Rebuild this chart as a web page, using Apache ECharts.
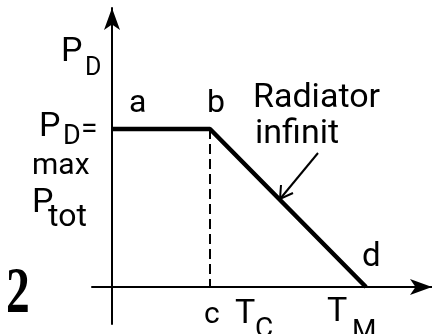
<!DOCTYPE html>
<html>
<head>
<meta charset="utf-8">
<script src="https://cdn.jsdelivr.net/npm/echarts@6/dist/echarts.min.js"></script>
<style>
  html, body { margin: 0; padding: 0; background: #fff; }
  #main { width: 432px; height: 334px; }
</style>
</head>
<body>
<div id="main"></div>
<script>
// curve points a-b-d (temperature, dissipated power), arbitrary units
var curveT = [0, 98, 254];
var curveP = [158, 158, 0];
// dashed drop from b down to c
var cT = 98;
var pMax = 158;

var FONT = 'Roboto, "DejaVu Sans", sans-serif';

// text placed by its baseline
function label(txt, x, base, size, font, weight, sx) {
  return {
    type: 'text',
    x: x, y: base - 0.29 * size,
    scaleX: sx || 1,
    style: {
      x: 0, y: 0,
      text: txt,
      fill: '#000',
      font: (weight || 'normal') + ' ' + size + 'px ' + (font || FONT),
      verticalAlign: 'middle'
    },
    z: 10
  };
}

var myChart = echarts.init(document.getElementById('main'));
myChart.setOption({
  backgroundColor: '#fff',
  animation: false,
  grid: { left: 92, right: 0, top: 8, bottom: 10 },
  xAxis: {
    type: 'value', min: -20, max: 320,
    axisLine: { show: true, onZero: true, symbol: ['none', 'arrow'], symbolSize: [12, 22],
      lineStyle: { color: '#000', width: 2 } },
    axisTick: { show: false }, axisLabel: { show: false }, splitLine: { show: false }
  },
  yAxis: {
    type: 'value', min: -37, max: 279,
    axisLine: { show: true, onZero: true, symbol: ['none', 'arrow'], symbolSize: [12, 22],
      lineStyle: { color: '#000', width: 2 } },
    axisTick: { show: false }, axisLabel: { show: false }, splitLine: { show: false }
  },
  series: [
    {
      type: 'line',
      data: curveT.map(function (t, i) { return [t, curveP[i]]; }),
      symbol: 'none',
      lineStyle: { color: '#000', width: 4.5 },
      z: 5
    },
    {
      type: 'line',
      data: [[cT, pMax], [cT, 0]],
      symbol: 'none',
      lineStyle: { color: '#000', width: 2, type: [10, 5] }
    }
  ],
  graphic: [
    label('P', 61, 62, 34),
    label('D', 85, 76, 25),
    label('a', 129, 113, 32),
    label('b', 207, 113, 32),
    label('Radiator', 253, 108, 34),
    label('infinit', 255, 144, 34),
    label('P', 39, 137, 34),
    label('D', 63, 145, 27),
    label('=', 81, 139, 30),
    label('max', 32, 175, 30),
    label('P', 32, 213, 34),
    label('tot', 48, 227, 32),
    label('2', 6, 314, 66, '"Liberation Serif", serif', 'bold', 0.72),
    label('c', 204, 324, 30),
    label('T', 235, 324, 34),
    label('C', 255, 338, 28),
    label('T', 327, 322, 34),
    label('M', 352, 340, 28),
    label('d', 362, 267, 33),
    {
      type: 'polyline',
      shape: { points: [[318, 153], [280, 199]] },
      style: { stroke: '#000', lineWidth: 2, fill: null }
    },
    {
      type: 'polyline',
      shape: { points: [[281, 185], [280, 199], [293, 193]] },
      style: { stroke: '#000', lineWidth: 2, fill: null }
    }
  ]
});
</script>
</body>
</html>
